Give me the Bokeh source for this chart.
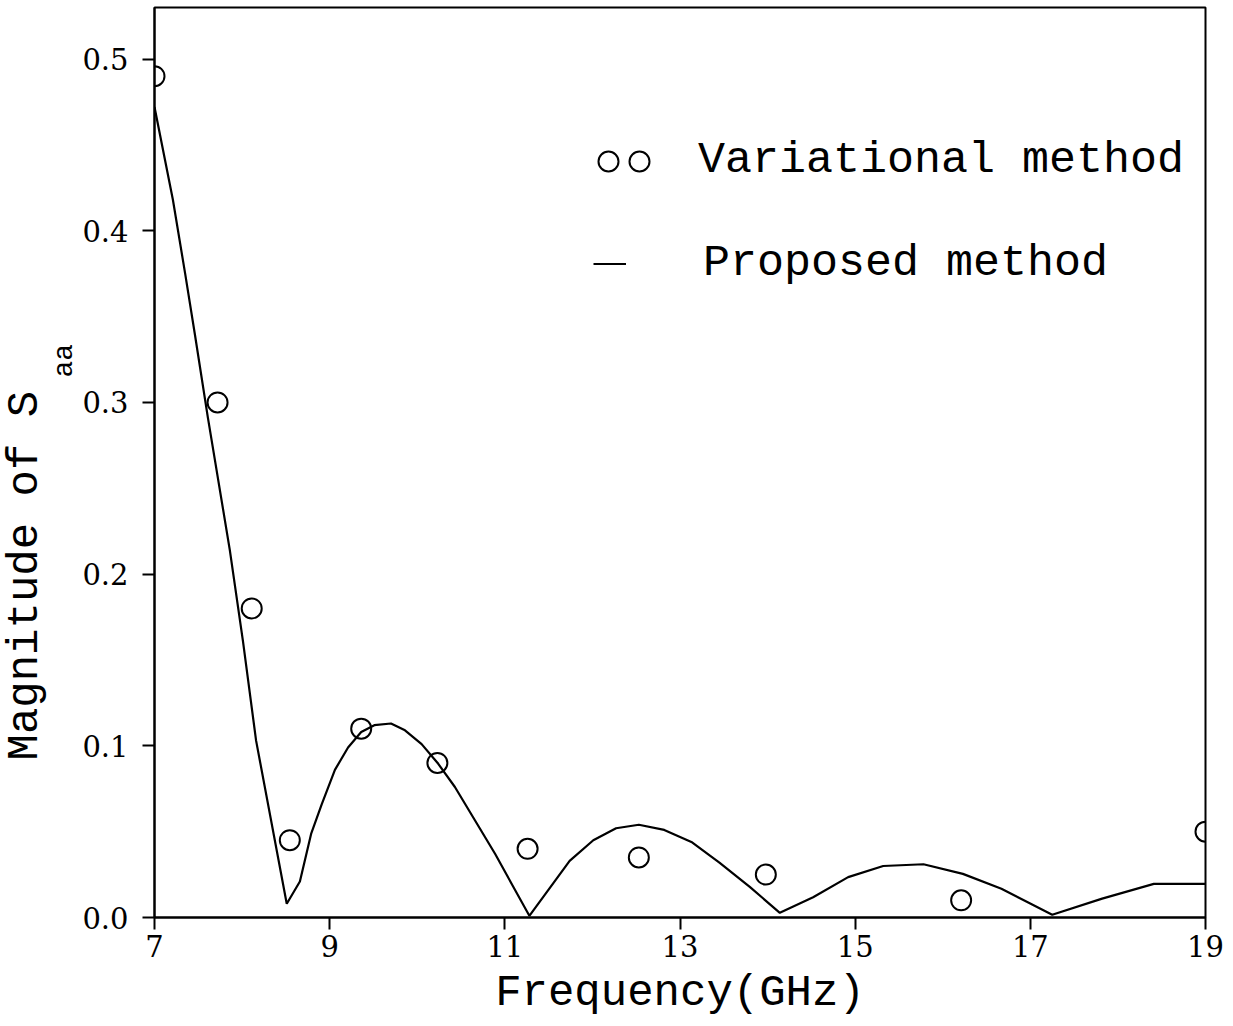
from bokeh.plotting import figure
from bokeh.models import (Legend, LegendItem, Title, FixedTicker, PrintfTickFormatter,
                          Range1d)
from bokeh.embed import file_html
from bokeh.resources import INLINE

# ---- data ----
var_freq = [7.0, 7.72, 8.11, 8.545, 9.36, 10.23, 11.26, 12.53, 13.98, 16.21, 19.0]
var_mag = [0.490, 0.300, 0.180, 0.045, 0.110, 0.090, 0.040, 0.035, 0.025, 0.010, 0.050]

prop_freq = [7.0, 7.21, 7.35, 7.46, 7.61, 7.86, 8.01, 8.16, 8.51, 8.66, 8.79, 8.91,
             9.06, 9.21, 9.36, 9.51, 9.70, 9.86, 10.05, 10.24, 10.43, 10.66, 10.89,
             11.12, 11.28, 11.74, 12.01, 12.27, 12.53, 12.82, 13.13, 13.45, 13.80,
             14.14, 14.52, 14.92, 15.32, 15.78, 16.23, 16.67, 17.25, 17.82, 18.41, 19.0]
prop_mag = [0.472, 0.418, 0.375, 0.340, 0.291, 0.214, 0.161, 0.103, 0.008, 0.021,
            0.049, 0.066, 0.086, 0.099, 0.108, 0.112, 0.113, 0.109, 0.101, 0.0895,
            0.076, 0.0565, 0.037, 0.0157, 0.001, 0.033, 0.045, 0.052, 0.054, 0.051,
            0.044, 0.032, 0.0177, 0.0027, 0.0118, 0.0235, 0.030, 0.031, 0.0254,
            0.0167, 0.0016, 0.011, 0.0196, 0.0196]

x_ticks = [7, 9, 11, 13, 15, 17, 19]
y_ticks = [0.0, 0.1, 0.2, 0.3, 0.4, 0.5]

legend_labels = ["Variational method", "Proposed method"]
x_title = "Frequency(GHz)"
y_title = "Magnitude of S"
y_title_sub = "aa"

TITLE_FONT = "Liberation Mono"
TICK_FONT = "DejaVu Serif"

p = figure(width=1233, height=1026, output_backend="svg", toolbar_location=None,
           x_range=Range1d(7, 19), y_range=Range1d(0, 0.53),
           min_border_left=153, min_border_right=28, min_border_top=7,
           min_border_bottom=109)

p.xgrid.grid_line_color = None
p.ygrid.grid_line_color = None
p.outline_line_color = "black"
p.outline_line_width = 2
p.background_fill_color = "white"
p.border_fill_color = "white"

for ax in (p.xaxis[0], p.yaxis[0]):
    ax.axis_line_width = 2
    ax.axis_line_color = "black"
    ax.major_tick_line_width = 2
    ax.major_tick_in = 0
    ax.major_tick_out = 12
    ax.minor_tick_line_color = None
    ax.major_label_text_font = TICK_FONT
    ax.major_label_text_font_size = "29px"
    ax.major_label_text_color = "black"

p.xaxis.major_label_standoff = 5
p.yaxis.major_label_standoff = 14
p.xaxis.ticker = FixedTicker(ticks=x_ticks)
p.yaxis.ticker = FixedTicker(ticks=y_ticks)
p.yaxis.formatter = PrintfTickFormatter(format="%.1f")
p.xaxis.formatter = PrintfTickFormatter(format="%d")

p.xaxis.axis_label = x_title
p.xaxis.axis_label_text_font = TITLE_FONT
p.xaxis.axis_label_text_font_size = "44px"
p.xaxis.axis_label_text_font_style = "normal"
p.xaxis.axis_label_text_color = "black"
p.xaxis.axis_label_standoff = 8

r_line = p.line(prop_freq, prop_mag, line_color="black", line_width=2.2)
r_circ = p.scatter(var_freq, var_mag, marker="circle", size=20, fill_color=None,
                   line_color="black", line_width=2)

common = dict(border_line_color=None, background_fill_alpha=0, padding=0, margin=0,
              label_text_font=TITLE_FONT, label_text_font_size="45px",
              label_text_color="black", spacing=0)

legend_circ_a = Legend(items=[LegendItem(label=legend_labels[0], renderers=[r_circ])],
                       location=(429, 731), glyph_width=50, glyph_height=50,
                       label_standoff=65, **common)
legend_circ_b = Legend(items=[LegendItem(label=" ", renderers=[r_circ])],
                       location=(460, 731), glyph_width=50, glyph_height=50,
                       label_standoff=0, **common)
legend_line = Legend(items=[LegendItem(label=legend_labels[1], renderers=[r_line])],
                     location=(439, 628), glyph_width=33, glyph_height=45,
                     label_standoff=77, **common)
p.add_layout(legend_circ_a)
p.add_layout(legend_circ_b)
p.add_layout(legend_line)

p.add_layout(Title(text=y_title_sub, text_font=TITLE_FONT, text_font_size="28px",
                   text_font_style="normal", text_color="black", align="left",
                   offset=540, standoff=0), "left")
p.add_layout(Title(text=y_title, text_font=TITLE_FONT, text_font_size="44px",
                   text_font_style="normal", text_color="black", align="left",
                   offset=157, standoff=-6), "left")

open("out.html", "w").write(file_html(p, INLINE))
